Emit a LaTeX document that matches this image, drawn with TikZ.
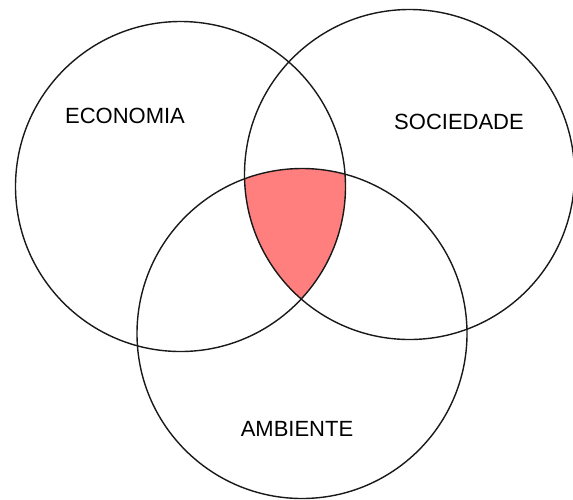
\documentclass[tikz,border=0pt]{standalone}
\usepackage{fontspec}
\setmainfont{Liberation Sans}
\definecolor{core}{RGB}{255,126,126}
\begin{document}
\begin{tikzpicture}[x=1pt,y=-1pt,
  ring/.style={draw=black!90,line width=1.4pt,circle,inner sep=0pt,minimum size=330pt},
  lbl/.style={font=\fontsize{22}{24}\selectfont,text=black,inner sep=0pt}]
\useasboundingbox (0,0) rectangle (573,499);
\begin{scope}
  \clip (180.5,186.5) circle[radius=165];
  \clip (409.5,174.5) circle[radius=165];
  \fill[core] (302,333.5) circle[radius=165];
\end{scope}
\node[ring] (eco) at (180.5,186.5) {};
\node[ring] (soc) at (409.5,174.5) {};
\node[ring] (amb) at (302,333.5) {};
\node[lbl] (teco) at (125,116) {ECONOMIA};
\node[lbl] (tsoc) at (459,121.5) {SOCIEDADE};
\node[lbl] (tamb) at (297,428.5) {AMBIENTE};
\end{tikzpicture}
\end{document}
